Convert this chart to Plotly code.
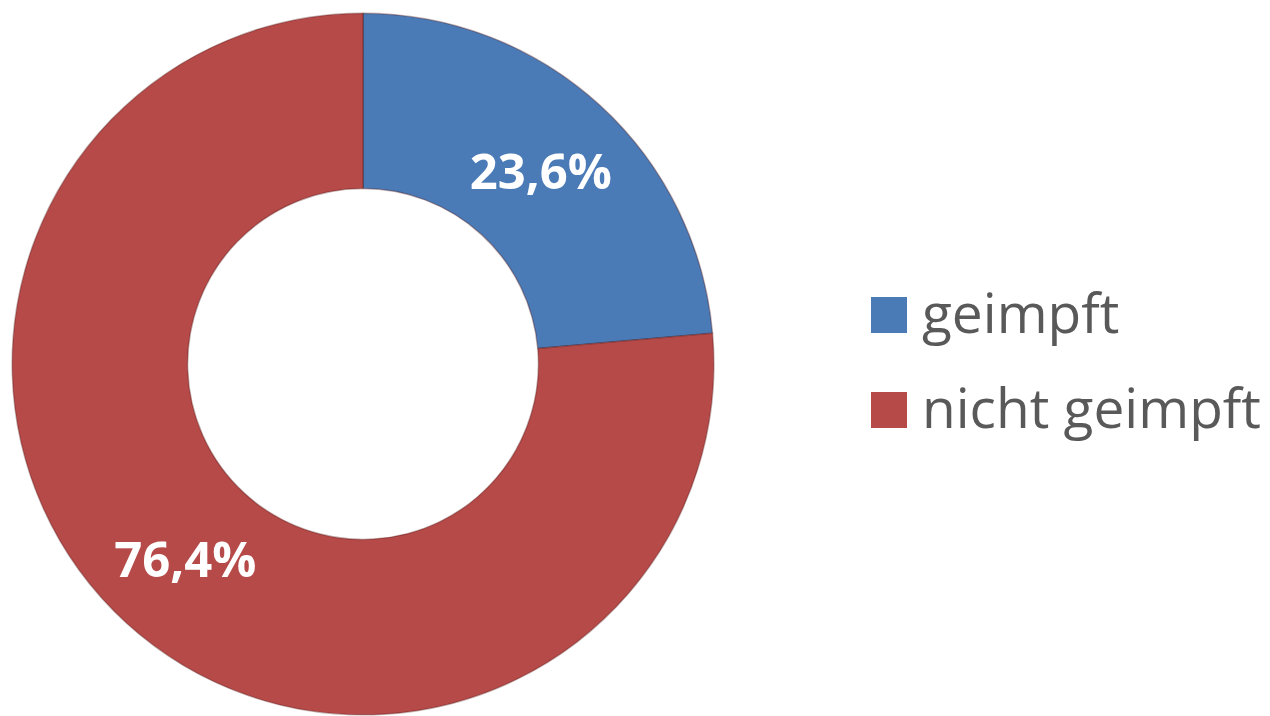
import plotly.graph_objects as go

labels = ["geimpft", "nicht geimpft"]
values = [23.6, 76.4]
colors = ["#4A7BB7", "#B64A48"]

W, H = 1270, 716
OFF = 8  # page body margin compensation (px)

fig = go.Figure()
fig.add_trace(go.Pie(
    labels=labels,
    values=values,
    hole=0.5,
    sort=False,
    direction="clockwise",
    rotation=0,
    marker=dict(colors=colors, line=dict(color="rgba(80,20,20,0.35)", width=1.5)),
    texttemplate="%{percent:.1%}",
    textposition="inside",
    insidetextorientation="horizontal",
    textfont=dict(family="Open Sans", size=49, color="white", weight="bold"),
    domain=dict(x=[0.0033, 0.5558], y=[0.0128, 0.9928]),
    showlegend=False,
    hoverinfo="label+percent",
))

# manual legend (large squares + text)
leg_y = [315, 410]
for lab, col, py in zip(labels, colors, leg_y):
    py = py - OFF
    fig.add_shape(type="rect", xref="paper", yref="paper",
                  x0=(871 - OFF) / W, x1=(907 - OFF) / W,
                  y0=1 - (py + 18) / H, y1=1 - (py - 18) / H,
                  fillcolor=col, line=dict(width=0))
    fig.add_annotation(xref="paper", yref="paper",
                       x=(920 - OFF) / W, y=1 - (py - 4) / H,
                       xanchor="left", yanchor="middle",
                       text=lab, showarrow=False,
                       font=dict(family="Open Sans", size=55, color="#595959"))

fig.update_layout(
    width=W, height=H,
    margin=dict(l=0, r=0, t=0, b=0),
    paper_bgcolor="white",
    plot_bgcolor="white",
    separators=",.",
)

fig.write_html("out.html")
